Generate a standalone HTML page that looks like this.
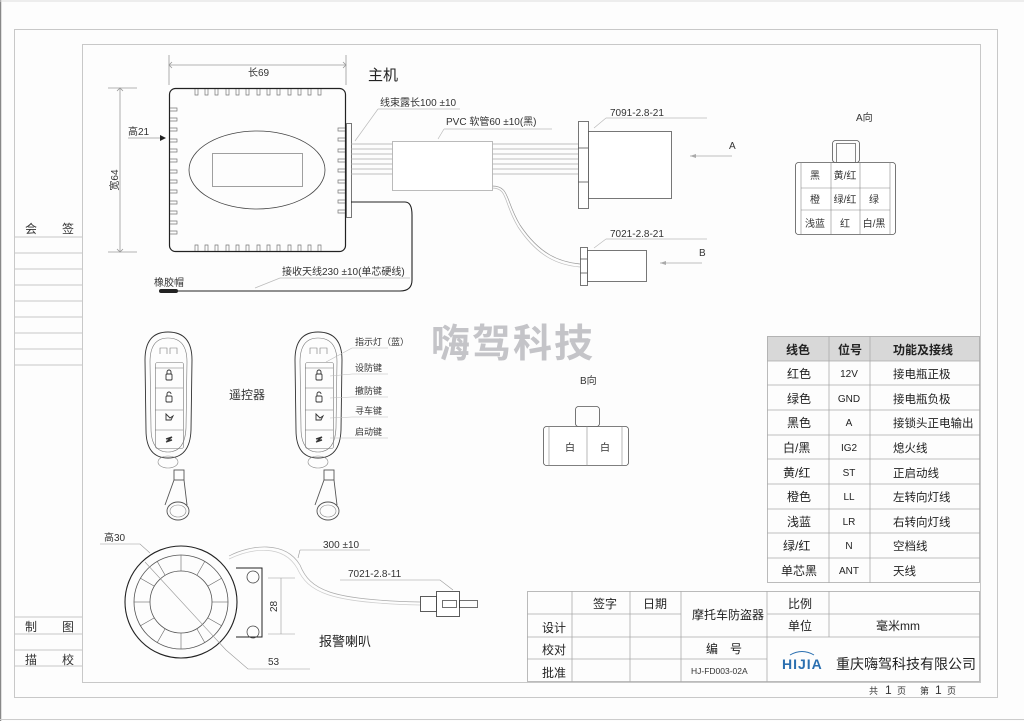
<!DOCTYPE html>
<html><head><meta charset="utf-8"><style>
html,body{margin:0;padding:0;background:#fdfdfd;}
svg{display:block;font-family:"Liberation Sans","Noto Sans CJK SC",sans-serif;}
</style></head><body>
<svg width="1024" height="721" viewBox="0 0 1024 721" xmlns="http://www.w3.org/2000/svg">
<rect width="1024" height="721" fill="#fdfdfd"/>
<line x1="0.5" y1="0" x2="0.5" y2="721" stroke="#888" stroke-width="1.5"/>
<line x1="0" y1="1" x2="1024" y2="1" stroke="#ddd"/>
<line x1="0" y1="719.5" x2="1024" y2="719.5" stroke="#ccc"/>
<rect x="14.5" y="29.5" width="983" height="668" fill="none" stroke="#c8c8c8" stroke-width="1"/>
<rect x="82.5" y="44.5" width="898" height="638" fill="none" stroke="#c8c8c8" stroke-width="1"/>
<!-- left sidebar -->
<g stroke="#c8c8c8" fill="none">
<line x1="15" y1="237" x2="82" y2="237"/><line x1="15" y1="253" x2="82" y2="253"/><line x1="15" y1="269" x2="82" y2="269"/><line x1="15" y1="285" x2="82" y2="285"/><line x1="15" y1="301" x2="82" y2="301"/><line x1="15" y1="317" x2="82" y2="317"/><line x1="15" y1="333" x2="82" y2="333"/><line x1="15" y1="349" x2="82" y2="349"/><line x1="15" y1="365" x2="82" y2="365"/>
<line x1="15" y1="617" x2="82" y2="617"/><line x1="15" y1="634" x2="82" y2="634"/><line x1="15" y1="650" x2="82" y2="650"/><line x1="15" y1="666" x2="82" y2="666"/>
</g>
<g font-size="12" fill="#333">
<text x="25" y="233">会</text><text x="62" y="233">签</text>
<text x="25" y="631">制</text><text x="62" y="631">图</text>
<text x="25" y="664">描</text><text x="62" y="664">校</text>
</g>

<!-- main unit -->
<g stroke="#999" fill="none" stroke-width="0.8">
<line x1="169" y1="55" x2="169" y2="85"/><line x1="346" y1="55" x2="346" y2="85"/>
<line x1="169" y1="65" x2="346" y2="65"/>
<line x1="108" y1="88" x2="137" y2="88"/><line x1="108" y1="252" x2="137" y2="252"/>
<line x1="120" y1="88" x2="120" y2="252"/>
<line x1="128" y1="138" x2="160" y2="138"/>
</g>
<path d="M172 62 L169 65 L172 68 M343 62 L346 65 L343 68 M117 91 L120 88 L123 91 M117 249 L120 252 L123 249" stroke="#999" fill="none" stroke-width="0.8"/>
<path d="M160 135 L166 138 L160 141Z" fill="#222"/>
<text x="248" y="76" font-size="10" fill="#333">长69</text>
<text x="128" y="135" font-size="10" fill="#333">高21</text>
<text x="118" y="180" font-size="10" fill="#333" transform="rotate(-90 118 180)" text-anchor="middle">宽64</text>
<text x="368" y="80" font-size="15" fill="#222">主机</text>
<rect x="169.5" y="88.5" width="176" height="163" rx="6" fill="none" stroke="#222" stroke-width="1.2"/>
<g fill="none" stroke="#777" stroke-width="0.7">
<path d="M195 89v6h3v-6 M205 89v6h3v-6 M215 89v6h3v-6 M226 89v6h3v-6 M236 89v6h3v-6 M246 89v6h3v-6 M257 89v6h3v-6 M267 89v6h3v-6 M277 89v6h3v-6 M288 89v6h3v-6 M298 89v6h3v-6 M308 89v6h3v-6 M318 89v6h3v-6"/>
<path d="M195 251v-6h3v6 M205 251v-6h3v6 M215 251v-6h3v6 M226 251v-6h3v6 M236 251v-6h3v6 M246 251v-6h3v6 M257 251v-6h3v6 M267 251v-6h3v6 M277 251v-6h3v6 M288 251v-6h3v6 M298 251v-6h3v6 M308 251v-6h3v6 M318 251v-6h3v6"/>
<path d="M170 108h7v3h-7 M170 118h7v3h-7 M170 128h7v3h-7 M170 139h7v3h-7 M170 149h7v3h-7 M170 159h7v3h-7 M170 170h7v3h-7 M170 180h7v3h-7 M170 190h7v3h-7 M170 201h7v3h-7 M170 211h7v3h-7 M170 221h7v3h-7 M170 231h7v3h-7"/>
<path d="M345 128h-7v3h7 M345 138h-7v3h7 M345 149h-7v3h7 M345 159h-7v3h7 M345 169h-7v3h7 M345 180h-7v3h7 M345 190h-7v3h7 M345 200h-7v3h7 M345 210h-7v3h7"/>
</g>
<ellipse cx="257" cy="170" rx="68" ry="39" fill="none" stroke="#444" stroke-width="0.8"/>
<rect x="212.5" y="153.5" width="90" height="33" fill="none" stroke="#888" stroke-width="0.8"/>
<rect x="346.5" y="123.5" width="5" height="94" fill="none" stroke="#555" stroke-width="0.8"/>
<g stroke="#aaa" stroke-width="0.7">
<line x1="351" y1="144" x2="393" y2="144"/><line x1="351" y1="149" x2="393" y2="149"/><line x1="351" y1="154" x2="393" y2="154"/><line x1="351" y1="159" x2="393" y2="159"/><line x1="351" y1="164" x2="393" y2="164"/><line x1="351" y1="169" x2="393" y2="169"/><line x1="351" y1="174" x2="393" y2="174"/>
<line x1="492" y1="144" x2="578" y2="144"/><line x1="492" y1="149" x2="578" y2="149"/><line x1="492" y1="154" x2="578" y2="154"/><line x1="492" y1="159" x2="578" y2="159"/><line x1="492" y1="164" x2="578" y2="164"/><line x1="492" y1="169" x2="578" y2="169"/><line x1="492" y1="174" x2="578" y2="174"/>
</g>
<path d="M492 186 C510 186 505 200 520 225 C540 255 560 262 580 264" stroke="#999" fill="none" stroke-width="0.7"/>
<path d="M492 188 C508 188 503 202 518 227 C538 257 558 265 580 267" stroke="#bbb" fill="none" stroke-width="0.7"/>
<rect x="392.5" y="141.5" width="100" height="49" fill="#fff" stroke="#aaa" stroke-width="0.8"/>
<text x="380" y="106" font-size="10" fill="#333">线束露长100 ±10</text>
<line x1="378" y1="109" x2="460" y2="109" stroke="#bbb" stroke-width="0.7"/>
<line x1="378" y1="109" x2="355" y2="141" stroke="#bbb" stroke-width="0.7"/>
<text x="446" y="125" font-size="10" fill="#333">PVC 软管60 ±10(黑)</text>
<line x1="444" y1="129" x2="552" y2="129" stroke="#bbb" stroke-width="0.7"/>
<line x1="444" y1="129" x2="438" y2="139" stroke="#bbb" stroke-width="0.7"/>
<path d="M351 202 H405 Q412 202 412 215 V280 Q412 291 400 291 H170" stroke="#222" fill="none" stroke-width="1.1"/>
<rect x="159" y="289" width="19" height="4" rx="2" fill="#222"/>
<text x="282" y="275" font-size="10" fill="#333">接收天线230 ±10(单芯硬线)</text>
<line x1="280" y1="278" x2="410" y2="278" stroke="#bbb" stroke-width="0.7"/>
<line x1="280" y1="278" x2="255" y2="288" stroke="#bbb" stroke-width="0.7"/>
<text x="154" y="286" font-size="10" fill="#333">橡胶帽</text>

<rect x="578.5" y="121.5" width="10" height="87" fill="#fff" stroke="#555" stroke-width="0.8"/>
<line x1="578" y1="148" x2="588" y2="148" stroke="#555" stroke-width="0.8"/><line x1="578" y1="182" x2="588" y2="182" stroke="#555" stroke-width="0.8"/>
<rect x="588.5" y="131.5" width="83" height="67" fill="#fff" stroke="#555" stroke-width="0.8"/>
<text x="610" y="116" font-size="10" fill="#333">7091-2.8-21</text>
<line x1="606" y1="118" x2="707" y2="118" stroke="#bbb" stroke-width="0.7"/><line x1="606" y1="118" x2="594" y2="128" stroke="#bbb" stroke-width="0.7"/>
<text x="729" y="149" font-size="10" fill="#333">A</text>
<line x1="690" y1="156" x2="732" y2="156" stroke="#aaa" stroke-width="0.7"/><path d="M690 156 L696 154 L696 158Z" fill="#aaa"/>
<rect x="580.5" y="247.5" width="7" height="38" fill="#fff" stroke="#555" stroke-width="0.8"/>
<line x1="580" y1="259" x2="587" y2="259" stroke="#555" stroke-width="0.8"/><line x1="580" y1="273" x2="587" y2="273" stroke="#555" stroke-width="0.8"/>
<rect x="587.5" y="250.5" width="59" height="31" fill="#fff" stroke="#555" stroke-width="0.8"/>
<text x="610" y="237" font-size="10" fill="#333">7021-2.8-21</text>
<line x1="606" y1="239" x2="707" y2="239" stroke="#bbb" stroke-width="0.7"/><line x1="606" y1="239" x2="594" y2="248" stroke="#bbb" stroke-width="0.7"/>
<text x="699" y="256" font-size="10" fill="#333">B</text>
<line x1="660" y1="263" x2="702" y2="263" stroke="#aaa" stroke-width="0.7"/><path d="M660 263 L666 261 L666 265Z" fill="#aaa"/>

<text x="856" y="121" font-size="10" fill="#333">A向</text>
<rect x="832.5" y="140.5" width="27" height="22" rx="3" fill="none" stroke="#555" stroke-width="0.8"/>
<rect x="836.5" y="143.5" width="19" height="19" fill="none" stroke="#555" stroke-width="0.7"/>
<rect x="795.5" y="162.5" width="100" height="72" rx="3" fill="#fff" stroke="#555" stroke-width="0.8"/>
<g stroke="#888" stroke-width="0.6">
<line x1="801" y1="162" x2="801" y2="234"/><line x1="831" y1="162" x2="831" y2="234"/><line x1="860" y1="162" x2="860" y2="234"/><line x1="890" y1="162" x2="890" y2="234"/>
<line x1="801" y1="188" x2="890" y2="188"/><line x1="801" y1="210" x2="890" y2="210"/>
</g>
<g font-size="10" fill="#333" text-anchor="middle">
<text x="815" y="179">黑</text><text x="845" y="179">黄/红</text>
<text x="815" y="203">橙</text><text x="845" y="203">绿/红</text><text x="874" y="203">绿</text>
<text x="815" y="227">浅蓝</text><text x="845" y="227">红</text><text x="874" y="227">白/黑</text>
</g>

<text x="513" y="357" font-size="39" font-weight="bold" fill="#c4c4c8" text-anchor="middle" letter-spacing="2">嗨驾科技</text>

<g id="fob" fill="none" stroke="#333" stroke-width="0.9">
<path d="M145 360 Q145 332 168 332 Q192 332 192 360 L191 430 Q190 458 168 458 Q146 458 146 430Z"/>
<path d="M150 362 Q150 338 168 338 Q187 338 187 362 L186 428 Q185 452 168 452 Q151 452 151 428Z" stroke="#777" stroke-width="0.6"/>
<path d="M160 354v-6h7v6 M170 354v-6h7v6" stroke="#777" stroke-width="0.6"/>
<rect x="155.5" y="362.5" width="28" height="86" rx="2" stroke="#777" stroke-width="0.6"/>
<line x1="155" y1="388" x2="183" y2="388" stroke="#777" stroke-width="0.6"/><line x1="155" y1="410" x2="183" y2="410" stroke="#777" stroke-width="0.6"/><line x1="155" y1="430" x2="183" y2="430" stroke="#777" stroke-width="0.6"/><line x1="155" y1="368" x2="183" y2="368" stroke="#777" stroke-width="0.6"/>
<rect x="166" y="374" width="6" height="6" rx="1"/><path d="M167 374v-2a2 2 0 0 1 4 0v2"/>
<rect x="166" y="396" width="6" height="6" rx="1"/><path d="M167 396v-2a2 2 0 0 1 4 0"/>
<path d="M166 414 l4 4 l3 -2 l-2 4 l-5 0z"/>
<path d="M166 439 l6 -2 l-4 3 l4 0 l-6 2" stroke-width="1.2"/>
<ellipse cx="168" cy="462" rx="10" ry="6" stroke="#888" stroke-width="0.6"/>
<rect x="174" y="470" width="10" height="10" stroke="#555"/>
<path d="M174 480 L165 505 M184 480 L187 505" stroke="#555"/>
<ellipse cx="178" cy="511" rx="11" ry="9" stroke="#555"/>
<ellipse cx="178" cy="511" rx="8" ry="6" stroke="#888" stroke-width="0.6"/>
</g>
<use href="#fob" x="150"/>
<text x="229" y="399" font-size="12" fill="#333">遥控器</text>
<g font-size="9" fill="#333">
<text x="355" y="345">指示灯（蓝）</text><text x="355" y="371">设防键</text><text x="355" y="394">撤防键</text><text x="355" y="414">寻车键</text><text x="355" y="435">启动键</text>
</g>
<g stroke="#bbb" stroke-width="0.6" fill="none">
<path d="M352 348H388 M352 348L326 362"/><path d="M352 374H388 M352 374L330 376"/><path d="M352 397H388 M352 397L330 398"/><path d="M352 417H388 M352 417L330 418"/><path d="M352 438H388 M352 438L330 438"/>
</g>

<text x="580" y="384" font-size="10" fill="#333">B向</text>
<rect x="575.5" y="406.5" width="24" height="20" rx="3" fill="none" stroke="#555" stroke-width="0.8"/>
<rect x="543.5" y="426.5" width="85" height="39" rx="3" fill="#fff" stroke="#555" stroke-width="0.8"/>
<line x1="549" y1="426" x2="549" y2="466" stroke="#888" stroke-width="0.6"/><line x1="587" y1="426" x2="587" y2="466" stroke="#888" stroke-width="0.6"/><line x1="622" y1="426" x2="622" y2="466" stroke="#888" stroke-width="0.6"/>
<text x="565" y="451" font-size="10" fill="#333">白</text><text x="600" y="451" font-size="10" fill="#333">白</text>

<circle cx="181" cy="602" r="56" fill="none" stroke="#222" stroke-width="1.1"/>
<circle cx="181" cy="602" r="47" fill="none" stroke="#555" stroke-width="0.8"/>
<circle cx="181" cy="602" r="31" fill="none" stroke="#555" stroke-width="0.8"/>
<g stroke="#666" stroke-width="0.6">
<line x1="181" y1="555" x2="181" y2="571"/><line x1="181" y1="633" x2="181" y2="649"/><line x1="134" y1="602" x2="150" y2="602"/><line x1="212" y1="602" x2="228" y2="602"/>
<line x1="157" y1="561" x2="165" y2="575"/><line x1="205" y1="561" x2="197" y2="575"/><line x1="157" y1="643" x2="165" y2="629"/><line x1="205" y1="643" x2="197" y2="629"/>
<line x1="140" y1="578" x2="154" y2="586"/><line x1="222" y1="578" x2="208" y2="586"/><line x1="140" y1="626" x2="154" y2="618"/><line x1="222" y1="626" x2="208" y2="618"/>
</g>
<line x1="145" y1="562" x2="226" y2="650" stroke="#999" stroke-width="0.6"/>
<path d="M236 568 H262 V637 H236" fill="none" stroke="#222" stroke-width="1"/>
<circle cx="253" cy="577" r="6" fill="none" stroke="#444" stroke-width="0.8"/>
<circle cx="253" cy="632" r="6" fill="none" stroke="#444" stroke-width="0.8"/>
<g stroke="#999" stroke-width="0.6" fill="none">
<line x1="268" y1="578" x2="295" y2="578"/><line x1="268" y1="634" x2="295" y2="634"/><line x1="281" y1="578" x2="281" y2="634"/>
<path d="M100 544H140L150 553"/><path d="M226 650L248 669H310"/>
<path d="M300 550H370 M300 550L298 558"/>
<path d="M340 580H440L453 590"/>
</g>
<text x="277" y="612" font-size="10" fill="#333" transform="rotate(-90 277 612)">28</text>
<text x="104" y="541" font-size="10" fill="#333">高30</text>
<text x="268" y="665" font-size="10" fill="#333">53</text>
<text x="323" y="548" font-size="10" fill="#333">300 ±10</text>
<text x="348" y="577" font-size="10" fill="#333">7021-2.8-11</text>
<text x="319" y="646" font-size="13" fill="#222">报警喇叭</text>
<path d="M229 556 C250 545 285 540 300 565 C310 590 330 600 420 602" stroke="#aaa" fill="none" stroke-width="0.7"/>
<path d="M229 559 C252 548 283 544 297 568 C308 592 328 603 420 605" stroke="#ccc" fill="none" stroke-width="0.7"/>
<rect x="420.5" y="596.5" width="16" height="15" fill="#fff" stroke="#333" stroke-width="0.8"/>
<rect x="436.5" y="591.5" width="23" height="25" fill="#fff" stroke="#333" stroke-width="0.8"/>
<rect x="442.5" y="600.5" width="14" height="7" fill="none" stroke="#333" stroke-width="0.7"/>
<rect x="459.5" y="600.5" width="18" height="7" fill="none" stroke="#333" stroke-width="0.7"/>

<rect x="767" y="336" width="213" height="25" fill="#d8d8d8"/>
<g stroke="#aaa" stroke-width="0.8" fill="none">
<rect x="767.5" y="336.5" width="212" height="246"/>
<line x1="829" y1="336" x2="829" y2="583"/><line x1="870" y1="336" x2="870" y2="583"/>
<line x1="767" y1="361" x2="980" y2="361"/><line x1="767" y1="385" x2="980" y2="385"/><line x1="767" y1="410" x2="980" y2="410"/><line x1="767" y1="435" x2="980" y2="435"/><line x1="767" y1="459" x2="980" y2="459"/><line x1="767" y1="484" x2="980" y2="484"/><line x1="767" y1="509" x2="980" y2="509"/><line x1="767" y1="533" x2="980" y2="533"/><line x1="767" y1="558" x2="980" y2="558"/>
</g>
<g font-size="12" fill="#222">
<text x="786" y="354" font-weight="bold">线色</text><text x="838" y="354" font-weight="bold">位号</text><text x="893" y="354" font-weight="bold">功能及接线</text>
<text x="787" y="378">红色</text><text x="787" y="403">绿色</text><text x="787" y="427">黑色</text><text x="783" y="452">白/黑</text><text x="783" y="477">黄/红</text><text x="787" y="501">橙色</text><text x="787" y="526">浅蓝</text><text x="783" y="550">绿/红</text><text x="781" y="575">单芯黑</text>
</g>
<g font-size="11.5" fill="#222">
<text x="893" y="378">接电瓶正极</text><text x="893" y="403">接电瓶负极</text><text x="893" y="427">接锁头正电输出</text><text x="893" y="452">熄火线</text><text x="893" y="477">正启动线</text><text x="893" y="501">左转向灯线</text><text x="893" y="526">右转向灯线</text><text x="893" y="550">空档线</text><text x="893" y="575">天线</text>
</g>
<g font-size="10" fill="#222" text-anchor="middle">
<text x="849" y="377">12V</text><text x="849" y="402">GND</text><text x="849" y="426">A</text><text x="849" y="451">IG2</text><text x="849" y="476">ST</text><text x="849" y="500">LL</text><text x="849" y="525">LR</text><text x="849" y="549">N</text><text x="849" y="574">ANT</text>
</g>

<g stroke="#aaa" stroke-width="0.8" fill="none">
<rect x="527.5" y="591.5" width="452" height="90"/>
<line x1="527" y1="614" x2="681" y2="614"/><line x1="767" y1="614" x2="980" y2="614"/>
<line x1="527" y1="637" x2="980" y2="637"/><line x1="527" y1="659" x2="767" y2="659"/>
<line x1="572" y1="591" x2="572" y2="682"/><line x1="630" y1="591" x2="630" y2="682"/><line x1="681" y1="591" x2="681" y2="682"/><line x1="767" y1="591" x2="767" y2="682"/><line x1="829" y1="591" x2="829" y2="637"/>
</g>
<g font-size="12" fill="#222">
<text x="593" y="608">签字</text><text x="643" y="608">日期</text>
<text x="692" y="619">摩托车防盗器</text>
<text x="788" y="608">比例</text><text x="788" y="630">单位</text>
<text x="876" y="630">毫米mm</text>
<text x="542" y="632">设计</text><text x="542" y="654">校对</text><text x="542" y="677">批准</text>
<text x="706" y="653">编　号</text>
</g>
<text x="691" y="674" font-size="8.5" fill="#333">HJ-FD003-02A</text>
<text x="782" y="669" font-size="14" font-weight="bold" fill="#2a6fb0" letter-spacing="1">HIJIA</text>
<path d="M790 655 Q802 648 814 655" stroke="#2a6fb0" fill="none" stroke-width="1"/>
<text x="836" y="669" font-size="14" fill="#222">重庆嗨驾科技有限公司</text>
<g font-size="9" fill="#333"><text x="869" y="694">共</text><text x="885" y="694" font-size="12">1</text><text x="897" y="694">页</text><text x="920" y="694">第</text><text x="935" y="694" font-size="12">1</text><text x="947" y="694">页</text></g>
</svg>
</body></html>
